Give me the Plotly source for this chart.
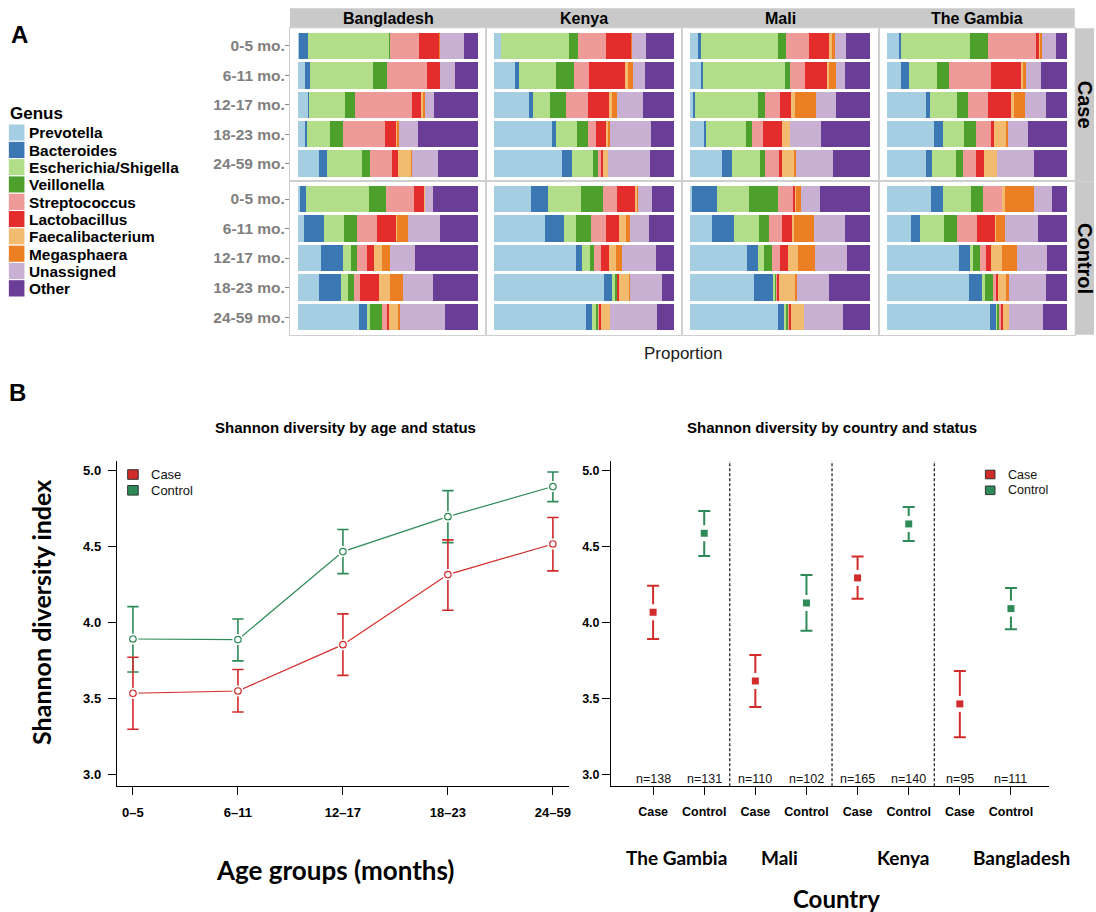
import plotly.graph_objects as go

W, H = 1096, 912
SANS = "Liberation Sans, Arial, Helvetica, sans-serif"
TITLE_FONT = "Lato, Open Sans, sans-serif"

# ---------------- Panel A: genus composition ----------------
GENERA = ["Prevotella", "Bacteroides", "Escherichia/Shigella", "Veillonella",
          "Streptococcus", "Lactobacillus", "Faecalibacterium", "Megasphaera",
          "Unassigned", "Other"]
GENUS_COLORS = ["#A6CEE3", "#3A77B3", "#B2DE89", "#4CA02B", "#EE9A99",
                "#E32D2D", "#F3BB6F", "#EC7F24", "#C8B0D3", "#6A3D97"]
AGE_BINS = ["0-5 mo.", "6-11 mo.", "12-17 mo.", "18-23 mo.", "24-59 mo."]
PANEL_COUNTRIES = ["Bangladesh", "Kenya", "Mali", "The Gambia"]
STATUSES = ["Case", "Control"]

# relative abundance (%) per age bin, genus order as GENERA
BANGLADESH_CASE = [
    [0.3, 5.1, 45.6, 0.4, 15.7, 11.3, 0.2, 0.2, 13.7, 7.6],
    [4.1, 2.8, 34.6, 8.1, 21.9, 7.6, 0.0, 0.0, 8.3, 12.6],
    [5.6, 0.4, 20.2, 5.4, 31.7, 5.4, 0.7, 1.5, 5.0, 24.3],
    [4.1, 0.7, 13.1, 7.2, 23.0, 6.5, 0.6, 0.6, 10.9, 33.1],
    [11.7, 4.6, 19.3, 4.6, 12.0, 3.5, 7.0, 0.6, 14.6, 22.0],
]
BANGLADESH_CONTROL = [
    [1.3, 3.3, 35.0, 9.4, 15.4, 5.6, 0.4, 0.0, 4.8, 24.8],
    [3.5, 10.9, 11.1, 7.4, 10.7, 10.9, 0.6, 5.7, 18.0, 21.1],
    [13.0, 11.9, 4.8, 3.3, 5.2, 4.3, 4.4, 4.1, 14.3, 34.8],
    [11.7, 11.9, 3.9, 3.7, 3.5, 10.4, 6.3, 6.9, 17.0, 24.8],
    [33.7, 4.6, 1.9, 6.3, 3.3, 0.7, 5.4, 0.9, 24.6, 18.5],
]
KENYA_CASE = [
    [3.9, 0.0, 37.7, 5.0, 15.2, 14.5, 0.2, 0.2, 7.4, 15.8],
    [11.7, 2.2, 20.4, 9.9, 8.6, 20.1, 1.7, 2.4, 6.7, 16.4],
    [19.3, 2.0, 9.9, 8.6, 12.1, 12.1, 1.7, 2.8, 14.3, 17.3],
    [32.2, 1.9, 12.1, 6.1, 4.5, 5.8, 1.1, 0.6, 22.7, 13.2],
    [37.5, 5.9, 11.3, 2.8, 1.5, 1.5, 2.6, 0.0, 23.6, 13.2],
]
KENYA_CONTROL = [
    [20.3, 9.7, 18.2, 12.5, 7.6, 10.6, 0.7, 0.6, 7.8, 12.1],
    [28.1, 10.6, 6.5, 8.7, 8.0, 7.4, 3.9, 2.0, 10.6, 14.1],
    [45.4, 3.2, 4.8, 2.0, 4.1, 4.5, 3.9, 2.8, 19.3, 10.0],
    [61.0, 4.6, 1.5, 1.3, 0.4, 0.7, 5.6, 0.2, 17.8, 6.9],
    [51.1, 3.3, 2.0, 1.3, 0.7, 0.6, 5.2, 0.0, 26.0, 9.7],
]
MALI_CASE = [
    [4.6, 1.1, 42.8, 4.6, 12.8, 11.5, 0.9, 2.0, 6.3, 13.3],
    [5.6, 1.5, 45.4, 2.8, 8.1, 13.1, 0.7, 3.7, 5.2, 13.9],
    [1.9, 0.7, 35.0, 3.7, 8.5, 5.9, 2.6, 11.7, 10.6, 19.4],
    [8.0, 0.9, 22.0, 3.1, 6.3, 10.4, 4.8, 0.0, 17.2, 27.2],
    [17.8, 5.6, 15.2, 2.8, 8.3, 1.1, 7.6, 0.2, 21.1, 20.6],
]
MALI_CONTROL = [
    [0.6, 14.1, 18.0, 15.9, 8.3, 1.5, 0.4, 2.6, 10.6, 28.1],
    [11.9, 12.2, 13.9, 5.6, 7.0, 6.5, 0.7, 10.6, 17.2, 14.4],
    [31.3, 6.3, 3.1, 4.6, 4.4, 4.6, 5.2, 9.6, 18.0, 12.8],
    [35.0, 10.7, 1.5, 0.9, 0.4, 0.9, 8.9, 0.7, 17.8, 23.1],
    [48.5, 3.9, 1.1, 0.9, 0.6, 0.7, 7.2, 0.0, 21.9, 15.2],
]
GAMBIA_CASE = [
    [6.9, 1.1, 38.5, 9.8, 26.5, 1.7, 0.7, 0.9, 7.8, 6.1],
    [8.0, 4.6, 15.4, 6.9, 23.1, 16.5, 1.1, 2.0, 8.1, 14.3],
    [22.0, 1.9, 15.4, 5.9, 11.1, 13.1, 1.7, 5.6, 11.9, 11.5],
    [26.1, 5.0, 11.7, 6.9, 8.5, 1.3, 7.0, 0.9, 11.1, 21.5],
    [21.7, 3.7, 13.3, 3.7, 7.0, 4.8, 7.0, 0.2, 20.2, 18.3],
]
GAMBIA_CONTROL = [
    [24.4, 6.7, 15.9, 6.3, 10.7, 0.0, 1.7, 16.3, 10.0, 8.0],
    [13.5, 5.0, 13.5, 7.2, 10.7, 10.0, 0.7, 5.2, 18.0, 16.1],
    [40.2, 5.9, 1.7, 4.1, 3.1, 3.1, 5.9, 8.5, 16.7, 10.7],
    [46.1, 7.2, 1.5, 4.3, 1.7, 1.3, 4.3, 1.9, 20.6, 11.3],
    [57.2, 3.5, 0.6, 1.3, 1.1, 0.9, 3.3, 0.0, 19.1, 13.0],
]

COMPOSITION = {
    ("Bangladesh", "Case"): BANGLADESH_CASE, ("Bangladesh", "Control"): BANGLADESH_CONTROL,
    ("Kenya", "Case"): KENYA_CASE, ("Kenya", "Control"): KENYA_CONTROL,
    ("Mali", "Case"): MALI_CASE, ("Mali", "Control"): MALI_CONTROL,
    ("The Gambia", "Case"): GAMBIA_CASE, ("The Gambia", "Control"): GAMBIA_CONTROL,
}

# ---------------- Panel B: Shannon diversity ----------------
AGE_GROUPS = ["0\u20135", "6\u201311", "12\u201317", "18\u201323", "24\u201359"]
AGE_CASE_MEAN = [3.533, 3.548, 3.853, 4.314, 4.515]
AGE_CASE_LOW = [3.296, 3.410, 3.651, 4.079, 4.338]
AGE_CASE_HIGH = [3.770, 3.689, 4.055, 4.542, 4.689]
AGE_CTRL_MEAN = [3.890, 3.886, 4.465, 4.695, 4.893]
AGE_CTRL_LOW = [3.673, 3.746, 4.320, 4.524, 4.794]
AGE_CTRL_HIGH = [4.103, 4.022, 4.610, 4.866, 4.989]

COUNTRIES = ["The Gambia", "Mali", "Kenya", "Bangladesh"]
CASE_N = [138, 110, 165, 95]
CTRL_N = [131, 102, 140, 111]
CTY_CASE_MEAN = [4.066, 3.614, 4.292, 3.463]
CTY_CASE_LOW = [3.890, 3.443, 4.154, 3.243]
CTY_CASE_HIGH = [4.241, 3.785, 4.432, 3.680]
CTY_CTRL_MEAN = [4.586, 4.127, 4.647, 4.090]
CTY_CTRL_LOW = [4.436, 3.945, 4.535, 3.954]
CTY_CTRL_HIGH = [4.732, 4.311, 4.759, 4.226]
Y_TICKS = [3.0, 3.5, 4.0, 4.5, 5.0]

CASE_COLOR = "#D22B2B"
CTRL_COLOR = "#2E8B57"


def fx(px):
    return px / W


def fy(py):
    return 1 - py / H


def note(text, x, y, size, bold=False, family=SANS, color="black",
         xanchor="center", yanchor="middle", angle=0):
    return dict(text=text, x=fx(x), y=fy(y), xref="paper", yref="paper",
                showarrow=False, xanchor=xanchor, yanchor=yanchor, textangle=angle,
                font=dict(family=family, size=size, color=color,
                          weight=700 if bold else 400))


fig = go.Figure()
layout = dict(width=W, height=H, margin=dict(l=0, r=0, t=0, b=0),
              paper_bgcolor="white", plot_bgcolor="white", barmode="stack",
              bargap=0.1, showlegend=False, font=dict(family=SANS))
annotations = []
shapes = []

# facet grid geometry (pixels)
GRID_L, GRID_R = 290.5, 1076.7
ROW_EDGES = [(28.3, 181.3), (181.3, 334.8)]
col_w = (GRID_R - GRID_L) / len(PANEL_COUNTRIES)
BORDER = "#CFCFCF"

for r, status in enumerate(STATUSES):
    for c, country in enumerate(PANEL_COUNTRIES):
        k = r * len(PANEL_COUNTRIES) + c + 1
        xn, yn = ("x", "y") if k == 1 else (f"x{k}", f"y{k}")
        x0 = GRID_L + c * col_w
        y0, y1 = ROW_EDGES[r]
        layout["xaxis" if k == 1 else f"xaxis{k}"] = dict(
            domain=[fx(x0), fx(x0 + col_w)], range=[-0.045, 1.045], anchor=yn,
            showticklabels=False, ticks="", showgrid=False, zeroline=False,
            showline=True, mirror=True, linecolor=BORDER, linewidth=1)
        layout["yaxis" if k == 1 else f"yaxis{k}"] = dict(
            domain=[fy(y1), fy(y0)], type="category", categoryorder="array",
            categoryarray=AGE_BINS, range=[4.6, -0.6], anchor=xn,
            showgrid=False, zeroline=False, showline=True, mirror=True,
            linecolor=BORDER, linewidth=1,
            ticks="outside" if c == 0 else "", ticklen=4, tickcolor="#8A8A8A",
            showticklabels=(c == 0), ticklabelstandoff=-3,
            tickfont=dict(family=SANS, size=15.5, color="#7F7F7F", weight=700))
        rows = COMPOSITION[(country, status)]
        for g, genus in enumerate(GENERA):
            fig.add_trace(go.Bar(
                y=AGE_BINS, x=[row[g] / sum(row) for row in rows], orientation="h",
                name=genus, marker=dict(color=GENUS_COLORS[g], line=dict(width=0)),
                xaxis=xn, yaxis=yn, showlegend=False))

# strips
shapes.append(dict(type="rect", xref="paper", yref="paper", x0=fx(GRID_L), x1=fx(GRID_R),
                   y0=fy(28.3), y1=fy(8.3), fillcolor="#C9C9C9", line=dict(width=0), layer="below"))
for c, country in enumerate(PANEL_COUNTRIES):
    annotations.append(note(country, GRID_L + (c + 0.5) * col_w, 18.6, 16, bold=True))
for r, status in enumerate(STATUSES):
    y0, y1 = ROW_EDGES[r]
    shapes.append(dict(type="rect", xref="paper", yref="paper", x0=fx(GRID_R), x1=fx(1096),
                       y0=fy(y1), y1=fy(y0), fillcolor="#C9C9C9", line=dict(width=0), layer="below"))
    annotations.append(note(status, 1087, (y0 + y1) / 2, 20, bold=True, angle=90))

annotations.append(note("Proportion", 684, 353, 17, color="#1A1A1A"))

# genus legend
annotations.append(note("Genus", 8.3, 113.5, 17, bold=True, xanchor="left"))
for g, genus in enumerate(GENERA):
    top = 124.0 + g * 17.3
    shapes.append(dict(type="rect", xref="paper", yref="paper", x0=fx(8.3), x1=fx(25),
                       y0=fy(top + 17.3), y1=fy(top), fillcolor=GENUS_COLORS[g],
                       line=dict(width=1, color="white")))
    annotations.append(note(genus, 27.5, top + 8.9, 15.4, bold=True, xanchor="left"))

annotations.append(note("A", 20, 35, 24, bold=True))
annotations.append(note("B", 18, 392, 24, bold=True))

# ---------------- Panel B axes ----------------
PLOT_TOP, PLOT_BOT = 461.0, 786.3
Y_RANGE = [2.921, 5.061]


def b_axis(domain_px, rng, tickvals, ticktext, anchor, is_x, size, standoff):
    d = dict(range=rng, tickvals=tickvals, ticktext=ticktext, anchor=anchor,
             ticks="outside", ticklen=8, tickwidth=1.3, tickcolor="black",
             showline=True, linecolor="black", linewidth=1.3,
             showgrid=False, zeroline=False, ticklabelstandoff=standoff,
             tickfont=dict(family=SANS, size=size, color="black", weight=700))
    if is_x:
        d["domain"] = [fx(domain_px[0]), fx(domain_px[1])]
    else:
        d["domain"] = [fy(domain_px[1]), fy(domain_px[0])]
    return d


age_x = list(range(1, len(AGE_GROUPS) + 1))
layout["xaxis9"] = b_axis((117.1, 570.0), [0.847, 5.153], age_x, AGE_GROUPS, "y9", True, 13, 6)
layout["yaxis9"] = b_axis((PLOT_TOP, PLOT_BOT), Y_RANGE, Y_TICKS,
                          [f"{v:.1f}" for v in Y_TICKS], "x9", False, 13, 4)

case_x = [2 * i + 1 for i in range(len(COUNTRIES))]
ctrl_x = [2 * i + 2 for i in range(len(COUNTRIES))]
layout["xaxis10"] = b_axis((612.3, 1050.7), [0.18, 8.74], list(range(1, 2 * len(COUNTRIES) + 1)),
                           [s for _ in COUNTRIES for s in STATUSES], "y10", True, 12.5, 6)
layout["yaxis10"] = b_axis((PLOT_TOP, PLOT_BOT), Y_RANGE, Y_TICKS,
                           [f"{v:.1f}" for v in Y_TICKS], "x10", False, 12.5, 0)


def err_trace(xs, mean, low, high, color, xa, ya, thick, cap):
    return go.Scatter(
        x=xs, y=mean, mode="markers", xaxis=xa, yaxis=ya, showlegend=False,
        marker=dict(size=1, color="rgba(0,0,0,0)"),
        error_y=dict(type="data", symmetric=False,
                     array=[h - m for h, m in zip(high, mean)],
                     arrayminus=[m - l for m, l in zip(mean, low)],
                     color=color, thickness=thick, width=cap))


# age plot: connecting lines, error bars, open circles with a gap around each point
age_series = [(AGE_CTRL_MEAN, AGE_CTRL_LOW, AGE_CTRL_HIGH, CTRL_COLOR),
              (AGE_CASE_MEAN, AGE_CASE_LOW, AGE_CASE_HIGH, CASE_COLOR)]
for mean, low, high, color in age_series:
    fig.add_trace(go.Scatter(x=age_x, y=mean, mode="lines", xaxis="x9", yaxis="y9",
                             line=dict(color=color, width=1.2), showlegend=False))
    fig.add_trace(err_trace(age_x, mean, low, high, color, "x9", "y9", 1.6, 5.7))
for mean, low, high, color in age_series:
    fig.add_trace(go.Scatter(x=age_x, y=mean, mode="markers", xaxis="x9", yaxis="y9",
                             marker=dict(symbol="circle", size=11, color="white"),
                             showlegend=False))
    fig.add_trace(go.Scatter(x=age_x, y=mean, mode="markers", xaxis="x9", yaxis="y9",
                             marker=dict(symbol="circle-open", size=6.5, color=color,
                                         line=dict(width=1.2, color=color)),
                             showlegend=False))

# country plot: filled squares with gapped error bars
cty_series = [(case_x, CTY_CASE_MEAN, CTY_CASE_LOW, CTY_CASE_HIGH, CASE_COLOR),
              (ctrl_x, CTY_CTRL_MEAN, CTY_CTRL_LOW, CTY_CTRL_HIGH, CTRL_COLOR)]
for xs, mean, low, high, color in cty_series:
    fig.add_trace(err_trace(xs, mean, low, high, color, "x10", "y10", 2, 6))
    fig.add_trace(go.Scatter(x=xs, y=mean, mode="markers", xaxis="x10", yaxis="y10",
                             marker=dict(symbol="square", size=16, color="white"),
                             showlegend=False))
    fig.add_trace(go.Scatter(x=xs, y=mean, mode="markers", xaxis="x10", yaxis="y10",
                             marker=dict(symbol="square", size=7, color=color,
                                         line=dict(width=0)),
                             showlegend=False))

# dotted separators between countries
for i in range(len(COUNTRIES) - 1):
    sep = (ctrl_x[i] + case_x[i + 1]) / 2
    shapes.append(dict(type="line", xref="x10", yref="y10 domain", x0=sep, x1=sep,
                       y0=0, y1=1, line=dict(color="black", width=1.1, dash="3px,2px")))

# sample sizes
for xs, ns in ((case_x, CASE_N), (ctrl_x, CTRL_N)):
    for xv, n in zip(xs, ns):
        annotations.append(dict(text=f"n={n}", x=xv, y=2.967, xref="x10", yref="y10",
                                showarrow=False, font=dict(family=SANS, size=12.5, color="#111")))

# titles and legends
annotations.append(note("Shannon diversity by age and status", 346, 427, 15, bold=True))
annotations.append(note("Shannon diversity by country and status", 833.5, 427, 15, bold=True))

legend_spots = ((133.2, 149.6, 13, 10.6), (992.0, 1007.7, 12.5, 9.6))
for lx, tx, fsize, side in legend_spots:
    for (label, color), cy in zip((("Case", CASE_COLOR), ("Control", CTRL_COLOR)), (474.5, 490.3)):
        shapes.append(dict(type="rect", xref="paper", yref="paper",
                           x0=fx(lx - side / 2), x1=fx(lx + side / 2),
                           y0=fy(cy + side / 2 - 0.5), y1=fy(cy - side / 2 + 0.5),
                           fillcolor=color, line=dict(width=1, color="#333")))
        annotations.append(note(label, tx, cy, fsize, color="#111", xanchor="left"))

annotations.append(note("Shannon diversity index", 41, 612, 25, bold=True,
                        family=TITLE_FONT, angle=-90))
annotations.append(note("Age groups (months)", 336, 870, 26, bold=True, family=TITLE_FONT))
annotations.append(note("Country", 838, 898, 24, bold=True, family=TITLE_FONT))
for name, cx in zip(COUNTRIES, (678, 781, 905, 1023)):
    annotations.append(note(name, cx, 857, 19, bold=True, family=TITLE_FONT))

layout["annotations"] = annotations
layout["shapes"] = shapes
fig.update_layout(**layout)
fig.write_html("out.html")
